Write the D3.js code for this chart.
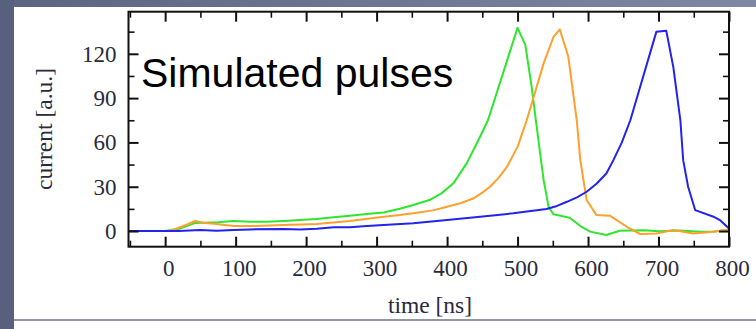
<!DOCTYPE html>
<html>
<head>
<meta charset="utf-8">
<script src="https://cdn.jsdelivr.net/npm/d3@7"></script>
<style>
  html, body { margin: 0; padding: 0; background: #fff; }
  svg { display: block; }
</style>
</head>
<body>
<svg id="chart" width="756" height="329"></svg>
<script>
// Simulated current pulses: [time in ns, current in a.u.]
const greenPulse = [
  [-52, 0], [0, 0], [20, 1.5], [43, 5.5], [54, 5.6], [75, 6], [97, 6.8], [121, 6.3],
  [144, 6.3], [168, 6.8], [191, 7.4], [215, 8.1], [239, 9.3], [262, 10.4], [286, 11.5],
  [310, 12.6], [333, 15.1], [352, 17.6], [375, 21], [392, 25.5], [409, 32.3], [428, 46],
  [447, 64], [458, 75], [500, 137.6], [511, 126], [520, 97.7], [526, 75], [537, 34.5],
  [544, 16.5], [551, 11.3], [574, 9], [589, 3.4], [603, -0.4], [626, -2.7], [645, 0.2],
  [680, 0.5], [700, -0.2], [730, 0.3], [760, -0.5], [780, -0.3], [800, 0.7]
];
const orangePulse = [
  [-52, 0], [7, 0], [26, 3.4], [43, 6.8], [54, 5.6], [73, 4.7], [97, 3.4], [121, 3.4],
  [168, 4.1], [215, 4.7], [262, 6.8], [310, 9.7], [333, 10.8], [352, 12], [380, 14],
  [400, 16.5], [420, 19], [437, 22], [450, 26], [461, 30], [473, 36], [485, 43.5],
  [500, 57], [513, 75], [537, 113.5], [551, 131.5], [560, 136.5], [572, 118], [584, 75],
  [589, 48], [598, 21], [612, 10.8], [631, 10.4], [655, 2.9], [674, -2], [697, -1.6],
  [721, 0.7], [749, -1.6], [777, -0.5], [800, 1.1]
];
const bluePulse = [
  [-52, 0], [19, 0], [50, 0.7], [73, 0.2], [97, 0.7], [121, 1.1], [168, 1.4], [191, 1.1],
  [215, 1.6], [239, 2.5], [262, 2.5], [286, 3.4], [310, 4.1], [352, 5.2], [400, 7.4],
  [447, 9.7], [494, 12], [541, 14.9], [556, 17], [570, 19.8], [585, 23], [598, 26.6],
  [612, 32], [626, 39], [636, 48], [648, 60], [660, 75], [697, 135], [711, 135.6],
  [721, 111], [731, 75], [735, 48], [742, 30], [752, 14.2], [778, 9.7], [787, 7.4], [800, 1.8]
];

const xMajorTicks = [0, 100, 200, 300, 400, 500, 600, 700, 800];
const xMinorTicks = [-50, 50, 150, 250, 350, 450, 550, 650, 750];
const yMajorTicks = [0, 30, 60, 90, 120];
const yMinorTicks = [15, 45, 75, 105, 135];

const series = [
  { data: greenPulse, color: "#2ee62e" },
  { data: orangePulse, color: "#ff9f2e" },
  { data: bluePulse, color: "#2323ee" }
];

const svg = d3.select("#chart");
const W = 756, H = 329;

// slide backdrop
const defs = svg.append("defs");
const grad = defs.append("linearGradient").attr("id", "topband")
  .attr("x1", "0").attr("x2", "1").attr("y1", "0").attr("y2", "0");
grad.append("stop").attr("offset", "0").attr("stop-color", "#5b6583");
grad.append("stop").attr("offset", "1").attr("stop-color", "#7e88a4");

svg.append("rect").attr("width", W).attr("height", H).attr("fill", "#ffffff");
svg.append("rect").attr("x", 0).attr("y", 0).attr("width", W).attr("height", 7).attr("fill", "url(#topband)");
svg.append("rect").attr("x", 0).attr("y", 0).attr("width", 14).attr("height", H).attr("fill", "#57617d");
svg.append("line").attr("x1", 14).attr("x2", W).attr("y1", 320).attr("y2", 320)
  .attr("stroke", "#6d7588").attr("stroke-width", 1.5);

// plot area
const plotL = 128.5, plotR = 729, plotT = 11.7, plotB = 246.7;
const x = d3.scaleLinear().domain([-52, 800]).range([plotL, plotR]);
const y = d3.scaleLinear().domain([-10.6, 148.5]).range([plotB, plotT]);

const labelFont = "'Liberation Serif', 'Times New Roman', serif";
const textColor = "#2a2a3a";

// pulses
const line = d3.line().x(d => x(d[0])).y(d => y(d[1]));
const g = svg.append("g");
g.append("clipPath").attr("id", "plotclip").append("rect")
  .attr("x", plotL).attr("y", plotT).attr("width", plotR - plotL).attr("height", plotB - plotT);
series.forEach(s => {
  g.append("path").datum(s.data)
    .attr("d", line)
    .attr("fill", "none")
    .attr("stroke", s.color)
    .attr("stroke-width", 2)
    .attr("stroke-linejoin", "round")
    .attr("clip-path", "url(#plotclip)");
});

// axes with inward ticks
function styleAxis(sel, width) {
  sel.select(".domain").remove();
  sel.selectAll(".tick line").attr("stroke", "#111").attr("stroke-width", width);
  sel.selectAll(".tick text")
    .attr("fill", textColor)
    .style("font-family", labelFont)
    .style("font-size", "23px");
}

// bottom
svg.append("g").attr("transform", `translate(0,${plotB})`)
  .call(d3.axisBottom(x).tickValues(xMajorTicks).tickSizeInner(-10).tickSizeOuter(0).tickPadding(12.5))
  .call(s => styleAxis(s, 2))
  .call(s => s.selectAll(".tick text").attr("dx", 3));
svg.append("g").attr("transform", `translate(0,${plotB})`)
  .call(d3.axisBottom(x).tickValues(xMinorTicks).tickSizeInner(-6).tickSizeOuter(0).tickFormat(""))
  .call(s => styleAxis(s, 1.6));
// top
svg.append("g").attr("transform", `translate(0,${plotT})`)
  .call(d3.axisTop(x).tickValues(xMajorTicks).tickSizeInner(-10).tickSizeOuter(0).tickFormat(""))
  .call(s => styleAxis(s, 2));
svg.append("g").attr("transform", `translate(0,${plotT})`)
  .call(d3.axisTop(x).tickValues(xMinorTicks).tickSizeInner(-6).tickSizeOuter(0).tickFormat(""))
  .call(s => styleAxis(s, 1.6));
// left
svg.append("g").attr("transform", `translate(${plotL},0)`)
  .call(d3.axisLeft(y).tickValues(yMajorTicks).tickSizeInner(-10).tickSizeOuter(0).tickPadding(12))
  .call(s => styleAxis(s, 2));
svg.append("g").attr("transform", `translate(${plotL},0)`)
  .call(d3.axisLeft(y).tickValues(yMinorTicks).tickSizeInner(-6).tickSizeOuter(0).tickFormat(""))
  .call(s => styleAxis(s, 1.6));
// right
svg.append("g").attr("transform", `translate(${plotR},0)`)
  .call(d3.axisRight(y).tickValues(yMajorTicks).tickSizeInner(-10).tickSizeOuter(0).tickFormat(""))
  .call(s => styleAxis(s, 2));
svg.append("g").attr("transform", `translate(${plotR},0)`)
  .call(d3.axisRight(y).tickValues(yMinorTicks).tickSizeInner(-6).tickSizeOuter(0).tickFormat(""))
  .call(s => styleAxis(s, 1.6));

// frame
svg.append("rect")
  .attr("x", plotL).attr("y", plotT).attr("width", plotR - plotL).attr("height", plotB - plotT)
  .attr("fill", "none").attr("stroke", "#111").attr("stroke-width", 2);

// axis titles
svg.append("text")
  .attr("x", 430).attr("y", 313)
  .attr("text-anchor", "middle")
  .attr("fill", textColor)
  .style("font-family", labelFont).style("font-size", "23.5px")
  .text("time [ns]");
svg.append("text")
  .attr("transform", "translate(52,129) rotate(-90)")
  .attr("text-anchor", "middle")
  .attr("fill", textColor)
  .style("font-family", labelFont).style("font-size", "23.5px")
  .text("current [a.u.]");

// in-plot caption
svg.append("text")
  .attr("x", 141).attr("y", 87)
  .attr("fill", "#000")
  .style("font-family", "'Liberation Sans', Arial, sans-serif").style("font-size", "41px")
  .text("Simulated pulses");
</script>
</body>
</html>
